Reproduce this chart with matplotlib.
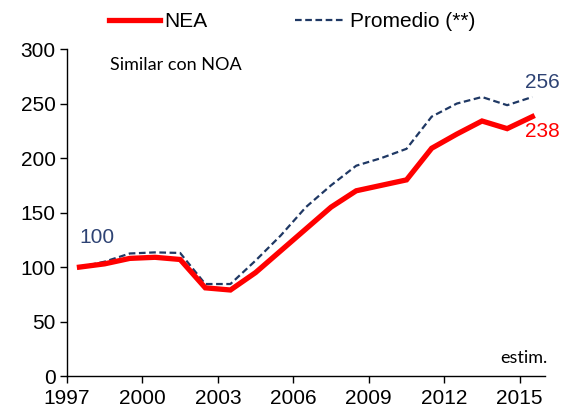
import numpy as np
import matplotlib.pyplot as plt

# index values (1997 = 100), plotted at mid-year
years = list(range(1997, 2016))
nea = [100, 103, 108, 109, 107, 81, 79, 95, 115, 135, 155, 170, 175, 180, 209, 222, 234, 227, 238]
promedio = [100, 105, 112.5, 113.5, 113, 84.5, 84.5, 106, 129, 155, 175, 193, 200, 208.5, 238, 250, 256, 248.5, 256]
xticks = [1997, 2000, 2003, 2006, 2009, 2012, 2015]

plt.rcParams['font.family'] = ['Liberation Sans', 'DejaVu Sans']

fig = plt.figure(figsize=(5.67, 4.12), dpi=100)
ax = fig.add_axes([0.118, 0.087, 0.843, 0.794])

x = np.array(years) + 0.5
ax.plot(x, nea, color='#FF0000', lw=3.8, solid_joinstyle='miter', label='NEA', zorder=3)
ax.plot(x, promedio, color='#1F3864', lw=1.6, ls=(0, (3, 1.6)), label='Promedio (**)', zorder=2)

ax.set_xlim(1997, 2016)
ax.set_ylim(0, 300)
ax.set_xticks(xticks)
ax.set_yticks(range(0, 301, 50))
ax.tick_params(axis='both', labelsize=15, direction='out', length=5, width=1, color='black')
ax.tick_params(axis='x', pad=4)
ax.tick_params(axis='y', pad=3)
for s in ['top', 'right']:
    ax.spines[s].set_visible(False)
for s in ['left', 'bottom']:
    ax.spines[s].set_linewidth(1)

# end labels
ax.text(1997.5, 118, '100', color='#2E4374', fontsize=15, ha='left', va='bottom')
ax.text(2016.6, promedio[-1] + 5, '256', color='#2E4374', fontsize=15, ha='right', va='bottom')
ax.text(2016.6, nea[-1] - 5, '238', color='#FF0000', fontsize=15, ha='right', va='top')

ax.text(1998.7, 293, 'Similar con NOA', fontsize=13, family=['Lato', 'DejaVu Sans'], ha='left', va='top')
ax.text(2016.1, 9, 'estim.', fontsize=13, family=['Lato', 'DejaVu Sans'], ha='right', va='bottom')

fig.legend(loc='center', bbox_to_anchor=(0.515, 0.947), ncol=2, frameon=False,
           fontsize=15, handlelength=2.45, handletextpad=0.2, columnspacing=4.2)

fig.savefig('out.png', dpi=100)
